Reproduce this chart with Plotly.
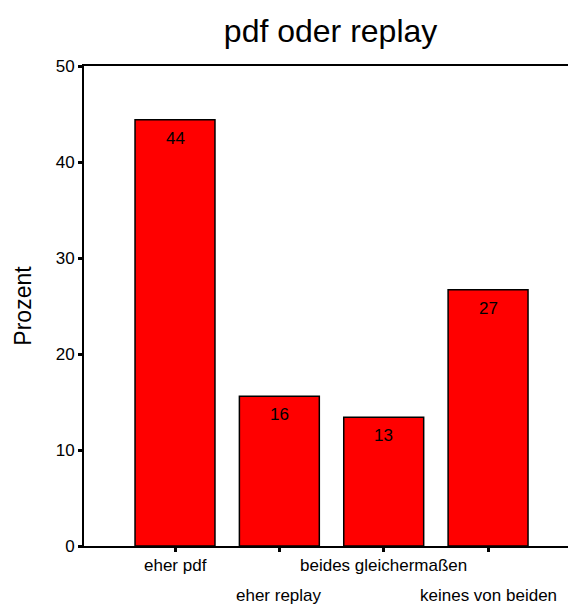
import plotly.graph_objects as go

categories = ["eher pdf", "eher replay", "beides gleichermaßen", "keines von beiden"]
values = [44.4, 15.6, 13.4, 26.7]
y_ticks = [0, 10, 20, 30, 40, 50]
title_text = "pdf oder replay"
y_title = "Prozent"

FONT = "Liberation Sans, Arial, sans-serif"
xs = list(range(len(categories)))

fig = go.Figure()
fig.add_trace(go.Bar(
    x=xs, y=values, width=0.766,
    marker=dict(color="#ff0000", line=dict(color="black", width=1.5)),
    showlegend=False, hoverinfo="skip",
))

annotations = []
for i, (c, v) in enumerate(zip(categories, values)):
    annotations.append(dict(x=i, y=v, xref="x", yref="y", text=f"{round(v):d}",
                            showarrow=False, yanchor="top", yshift=-7,
                            font=dict(family=FONT, size=17, color="black")))
    annotations.append(dict(x=i, y=0, xref="x", yref="paper", text=c,
                            showarrow=False, yanchor="top",
                            yshift=-8 if i % 2 == 0 else -38,
                            font=dict(family=FONT, size=17, color="black")))

fig.update_layout(
    width=568, height=606,
    margin=dict(l=84, r=0, t=66, b=60),
    paper_bgcolor="white", plot_bgcolor="white",
    title=dict(text=title_text, x=0.582, xanchor="center", y=0.95, yanchor="middle",
               font=dict(family=FONT, size=32, color="black")),
    xaxis=dict(range=[-0.872, 3.766], tickvals=xs, ticktext=[""] * len(xs),
               showline=True, linecolor="black", linewidth=2, mirror=True,
               ticks="outside", ticklen=4, tickwidth=3, tickcolor="black",
               showgrid=False, zeroline=False),
    yaxis=dict(range=[0, 50], tickvals=y_ticks, showline=True, linecolor="black",
               linewidth=2, ticks="outside", ticklen=4, tickwidth=3, tickcolor="black",
               showgrid=False, zeroline=False,
               tickfont=dict(family=FONT, size=17, color="black"),
               title=dict(text=y_title, font=dict(family=FONT, size=23, color="black"),
                          standoff=18)),
    annotations=annotations,
)

fig.write_html("out.html")
